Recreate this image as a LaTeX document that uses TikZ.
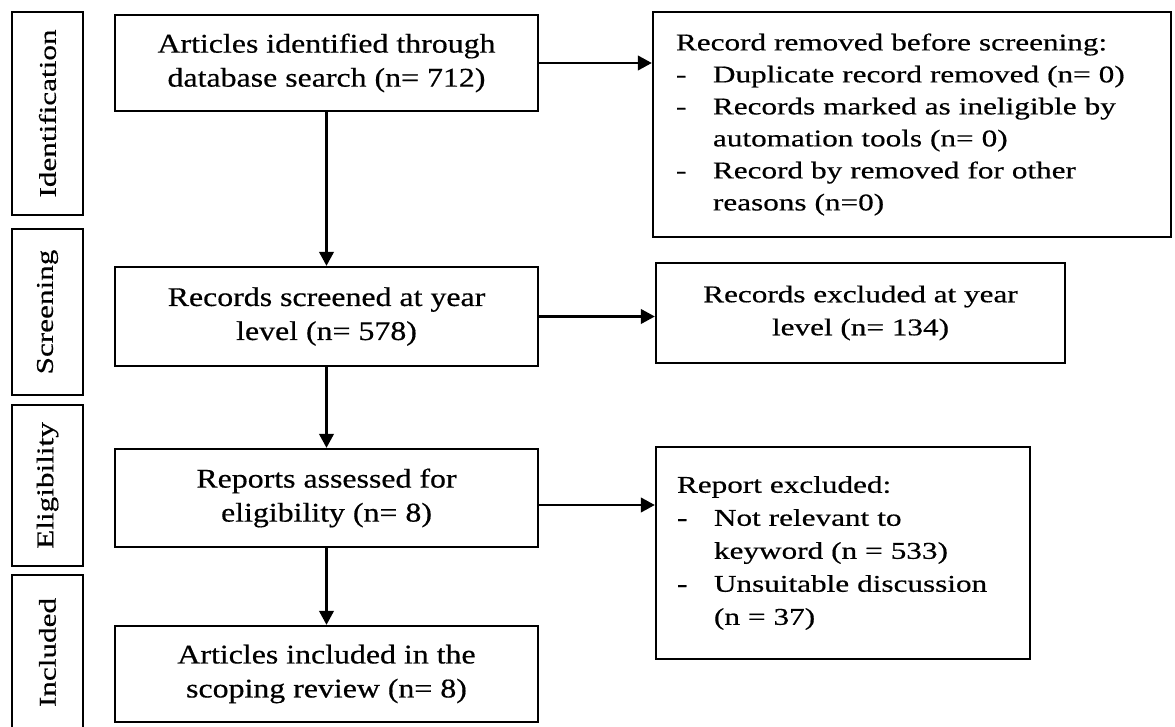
\documentclass[tikz,border=0pt]{standalone}
\usepackage{fontspec}
\setmainfont{Liberation Serif}
\newfontfamily\wideserif[FakeStretch=1.3,FakeBold=0.5]{Liberation Serif}
\newfontfamily\narrowserif[FakeStretch=1.18,FakeBold=0.5]{Liberation Serif}
\usetikzlibrary{arrows.meta}

\newcommand{\itemdash}{\makebox[27.75pt][l]{-}}
\newcommand{\itemcont}{\hspace*{27.75pt}}

\begin{document}
\begin{tikzpicture}[x=0.75pt,y=-0.75pt,
  box/.style={draw, line width=1.8pt, inner sep=0pt},
  stage/.style={box, rotate=90, minimum height=53.25pt,
    font=\wideserif\fontsize{18}{24}\selectfont},
  mainbox/.style={box, minimum width=317.25pt, align=center,
    font=\narrowserif\fontsize{20.25}{25.5}\selectfont},
  sidebox/.style={box, font=\wideserif\fontsize{18}{24.75}\selectfont},
  flow/.style={line width=1.6pt, -{Triangle[length=10.5pt,width=11pt]}}]

\useasboundingbox (0,0) rectangle (1175,727);

% phase labels down the left margin
\node[stage, minimum width=152.25pt] (sid) at (47.5,113.5) {Identification};
\node[stage, minimum width=124.5pt]  (ssc) at (47.5,312)   {Screening};
\node[stage, minimum width=120.75pt] (sel) at (47.5,485.5) {Eligibility};
\node[stage, minimum width=116.25pt] (sin) at (47.5,652.5) {Included};

% main flow
\node[mainbox, minimum height=72pt]    (b1) at (326.5,63)
  {Articles identified through\\database search (n= 712)};
\node[mainbox, minimum height=74.25pt] (b2) at (326.5,316.5)
  {Records screened at year\\level (n= 578)};
\node[mainbox, minimum height=73.5pt]  (b3) at (326.5,498)
  {Reports assessed for\\eligibility (n= 8)};
\node[mainbox, minimum height=72pt]    (b4) at (326.5,674)
  {Articles included in the\\scoping review (n= 8)};

% side boxes
\node[sidebox, minimum width=388.5pt, minimum height=168.75pt,
      text width=354pt, align=left,
      font=\wideserif\fontsize{18}{24}\selectfont] (r1) at (912,124.5)
  {Record removed before screening:\\
   \itemdash Duplicate record removed (n= 0)\\
   \itemdash Records marked as ineligible by\\
   \itemcont automation tools (n= 0)\\
   \itemdash Record by removed for other\\
   \itemcont reasons (n=0)};
\node[sidebox, minimum width=306.75pt, minimum height=75pt,
      align=center] (r2) at (860.5,313)
  {Records excluded at year\\level (n= 134)};
\node[sidebox, minimum width=280.5pt, minimum height=159pt,
      text width=249pt, align=left] (r3) at (843,553)
  {Report excluded:\\
   \itemdash Not relevant to\\
   \itemcont keyword (n = 533)\\
   \itemdash Unsuitable discussion\\
   \itemcont (n = 37)};

% connectors
\draw[flow] (b1) -- (b2);
\draw[flow] (b2) -- (b3);
\draw[flow] (b3) -- (b4);
\draw[flow] (b1.east) -- (b1.east -| r1.west);
\draw[flow] (b2.east) -- (b2.east -| r2.west);
\draw[flow] ([yshift=-5.25pt]b3.east) -- ([yshift=-5.25pt]b3.east -| r3.west);
\end{tikzpicture}
\end{document}
